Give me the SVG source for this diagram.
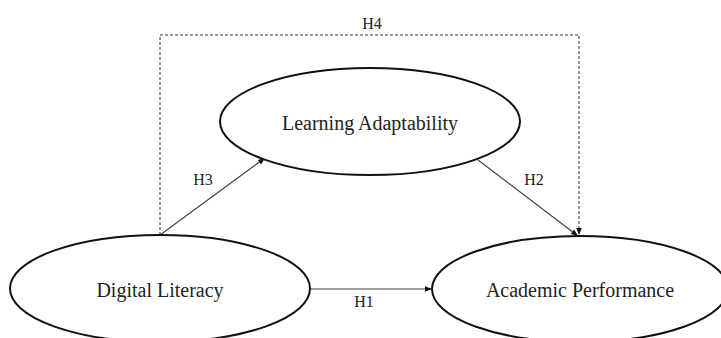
<svg xmlns="http://www.w3.org/2000/svg" width="721" height="338" viewBox="0 0 721 338">
<style>
.node ellipse{fill:#fff;stroke:#111;stroke-width:2}
.lbl{font-family:"Liberation Serif","Times New Roman",serif;fill:#222;text-anchor:middle}
.big{font-size:20px}
.small{font-size:16px}
.conn{stroke:#444;stroke-width:1.2;fill:none}
.dash{stroke:#777;stroke-width:1.5;fill:none;stroke-dasharray:3 2}
</style>
<defs>
<marker id="ah" viewBox="0 0 10 10" refX="10" refY="5" markerWidth="7" markerHeight="7" markerUnits="userSpaceOnUse" orient="auto">
<path d="M0,1 L10,5 L0,9 z" fill="#111"/>
</marker>
</defs>
<rect width="721" height="338" fill="#fff"/>
<g id="connectors">
<polyline class="dash" points="160,235 160,35 579,35 579,235" marker-end="url(#ah)"/>
<line class="conn" x1="160" y1="235" x2="265" y2="158" marker-end="url(#ah)"/>
<line class="conn" x1="478" y1="160" x2="578" y2="236" marker-end="url(#ah)"/>
<line class="conn" x1="310" y1="289" x2="432" y2="289" marker-end="url(#ah)"/>
<text class="lbl small" x="372" y="29">H4</text>
<text class="lbl small" x="203" y="185">H3</text>
<text class="lbl small" x="534" y="185">H2</text>
<text class="lbl small" x="364" y="307">H1</text>
</g>
<g id="learning-adaptability" class="node">
<ellipse cx="370" cy="121.5" rx="150" ry="53.5"/>
<text class="lbl big" x="370" y="130">Learning Adaptability</text>
</g>
<g id="digital-literacy" class="node">
<ellipse cx="160" cy="288.5" rx="150" ry="53.5"/>
<text class="lbl big" x="160" y="297">Digital Literacy</text>
</g>
<g id="academic-performance" class="node">
<ellipse cx="580" cy="289" rx="148" ry="53"/>
<text class="lbl big" x="580" y="297">Academic Performance</text>
</g>
</svg>
